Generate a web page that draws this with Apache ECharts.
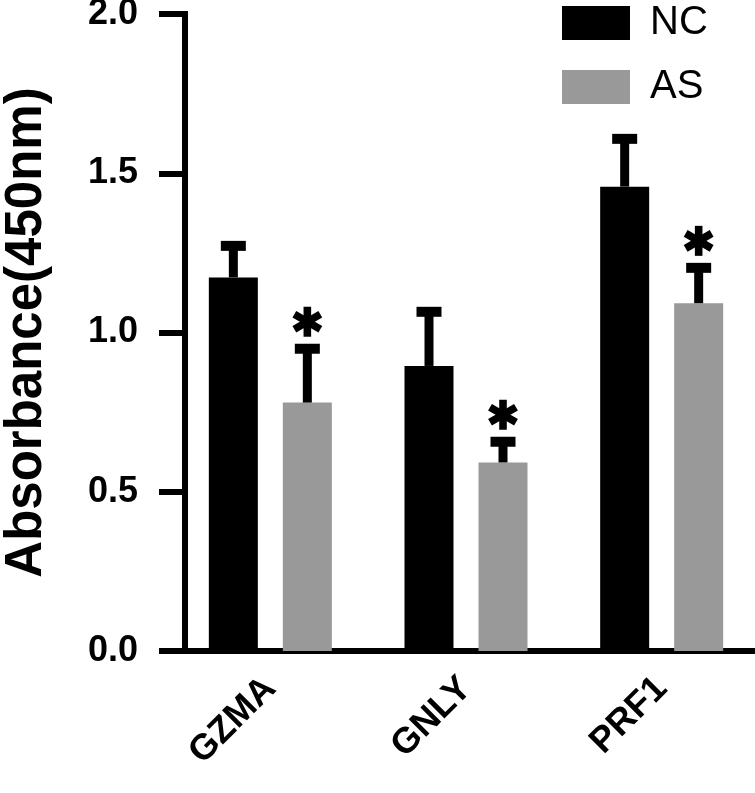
<!DOCTYPE html>
<html>
<head>
<meta charset="utf-8">
<script src="https://cdn.jsdelivr.net/npm/echarts@6/dist/echarts.min.js"></script>
<style>
html,body{margin:0;padding:0;background:#fff;}
#chart{width:755px;height:793px;}
</style>
</head>
<body>
<div id="chart"></div>
<script>
const categories = ['GZMA', 'GNLY', 'PRF1'];
const ncMean = [1.173, 0.895, 1.458];
const ncErr = [0.099, 0.170, 0.150];
const asMean = [0.780, 0.592, 1.092];
const asErr = [0.169, 0.065, 0.111];
const asSig = ['*', '*', '*'];
const ncSig = ['', '', ''];
const yTickLabels = ['0.0', '0.5', '1.0', '1.5', '2.0'];
const seriesNames = ['NC', 'AS'];

const FONT = '"Liberation Sans", Arial, Helvetica, sans-serif';
const BAR_W = 49;
const BAR_GAP = 25;
const SHIFT = (BAR_W + BAR_GAP) / 2;

function asteriskPolys(cx, cy, r, t) {
  const polys = [];
  [90, 30, -30].forEach(function (deg) {
    const a = deg * Math.PI / 180;
    const ux = Math.cos(a), uy = -Math.sin(a);
    const nx = -uy, ny = ux;
    polys.push([
      [cx + r * ux + t * nx, cy + r * uy + t * ny],
      [cx + r * ux - t * nx, cy + r * uy - t * ny],
      [cx - r * ux - t * nx, cy - r * uy - t * ny],
      [cx - r * ux + t * nx, cy - r * uy + t * ny]
    ]);
  });
  return polys;
}

function errSeries(name, means, errs, sig, shift) {
  return {
    name: name,
    type: 'custom',
    coordinateSystem: 'cartesian2d',
    silent: true,
    z: 3,
    encode: { x: 0, y: 1 },
    data: means.map(function (m, i) { return [i, m, errs[i], sig[i] ? 1 : 0]; }),
    renderItem: function (params, api) {
      const i = api.value(0), m = api.value(1), e = api.value(2), s = api.value(3);
      const base = api.coord([i, m]);
      const top = api.coord([i, m + e]);
      const x = base[0] + shift;
      const children = [
        { type: 'rect', shape: { x: x - 4.5, y: top[1], width: 9, height: base[1] - top[1] }, style: { fill: '#000' } },
        { type: 'rect', shape: { x: x - 12.5, y: top[1] - 5, width: 25, height: 10 }, style: { fill: '#000' } }
      ];
      if (s) {
        asteriskPolys(x, top[1] - 27, 15, 3.8).forEach(function (p) {
          children.push({ type: 'polygon', shape: { points: p }, style: { fill: '#000' } });
        });
      }
      return { type: 'group', children: children };
    }
  };
}

const chart = echarts.init(document.getElementById('chart'), null, { renderer: 'canvas' });
chart.setOption({
  animation: false,
  backgroundColor: '#fff',
  textStyle: { fontFamily: FONT },
  grid: { left: 172.5, width: 587, top: 14, bottom: 142, containLabel: false, outerBoundsMode: 'none' },
  legend: {
    data: seriesNames,
    orient: 'vertical',
    left: 557,
    top: -2,
    itemWidth: 68,
    itemHeight: 34,
    itemGap: 24,
    icon: 'rect',
    textStyle: { fontSize: 40, color: '#000', fontFamily: FONT, padding: [0, 0, 0, 15] }
  },
  xAxis: {
    type: 'category',
    data: categories,
    axisLine: { lineStyle: { color: '#000', width: 6 } },
    axisTick: { alignWithLabel: true, length: 26, lineStyle: { color: '#000', width: 6 } },
    axisLabel: { rotate: 45, interval: 0, margin: 32, fontSize: 36, fontWeight: 'bold', color: '#000', fontFamily: FONT },
    splitLine: { show: false }
  },
  yAxis: {
    type: 'value',
    min: 0,
    max: 2,
    interval: 0.5,
    offset: -12.5,
    name: 'Absorbance(450nm)',
    nameLocation: 'middle',
    nameRotate: 90,
    nameGap: 133,
    nameTextStyle: { fontSize: 51, fontWeight: 'bold', color: '#000', fontFamily: FONT, padding: [0, 0, 0, 0] },
    axisLine: { show: true, lineStyle: { color: '#000', width: 6, cap: 'square' } },
    axisTick: { show: true, length: 26, lineStyle: { color: '#000', width: 6 } },
    axisLabel: {
      margin: 47, fontSize: 36, fontWeight: 'bold', color: '#000', fontFamily: FONT,
      formatter: function (v, idx) { return yTickLabels[idx]; }
    },
    splitLine: { show: false }
  },
  series: [
    { name: 'NC', type: 'bar', data: ncMean, barWidth: BAR_W, barGap: (BAR_GAP / BAR_W * 100) + '%', itemStyle: { color: '#000000' }, z: 2 },
    { name: 'AS', type: 'bar', data: asMean, barWidth: BAR_W, barGap: (BAR_GAP / BAR_W * 100) + '%', itemStyle: { color: '#999999' }, z: 2 },
    errSeries('NC err', ncMean, ncErr, ncSig, -SHIFT),
    errSeries('AS err', asMean, asErr, asSig, SHIFT)
  ]
});
</script>
</body>
</html>
